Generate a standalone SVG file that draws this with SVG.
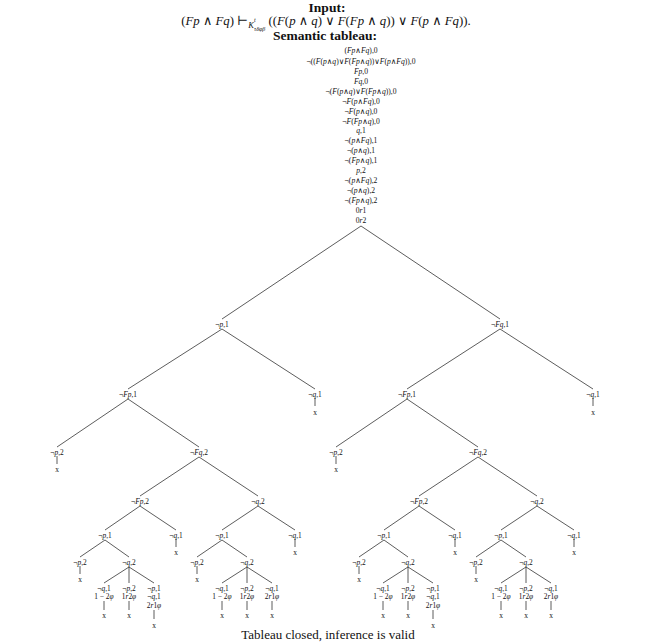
<svg xmlns="http://www.w3.org/2000/svg" width="656" height="644" viewBox="0 0 656 644">
<style>
text{font-family:"Liberation Serif","DejaVu Serif",serif;fill:#111;}
.h{font-size:13.5px;font-weight:bold;text-anchor:middle;}
.f{font-size:12.8px;text-anchor:middle;}
.s{font-size:7.6px;text-anchor:middle;}
.n{font-size:7.4px;text-anchor:middle;}
.c{font-size:13px;text-anchor:middle;}
.i{font-style:italic;}
#connectors line{stroke:#333;stroke-width:0.8;}
</style>
<rect width="656" height="644" fill="#fff"/>
<g id="header">
<text class="h" x="327" y="12">Input:</text>
<text class="f" x="326" y="24.5">(<tspan class="i">Fp</tspan> ∧ <tspan class="i">Fq</tspan>) ⊢<tspan class="i" font-size="8.5" dy="3">K</tspan><tspan class="i" font-size="6" dy="-6">t</tspan><tspan class="i" font-size="6" dx="-1.5" dy="9">τδφβ</tspan><tspan dy="-6"> ((<tspan class="i">F</tspan>(<tspan class="i">p</tspan> ∧ <tspan class="i">q</tspan>) ∨ <tspan class="i">F</tspan>(<tspan class="i">Fp</tspan> ∧ <tspan class="i">q</tspan>)) ∨ <tspan class="i">F</tspan>(<tspan class="i">p</tspan> ∧ <tspan class="i">Fq</tspan>)).</tspan></text>
<text class="h" x="325" y="40">Semantic tableau:</text>
</g>
<g id="root">
<text class="s" x="361" y="52.5">(<tspan class="i">Fp</tspan>∧<tspan class="i">Fq</tspan>),0</text>
<text class="s" x="361" y="63.5">¬((<tspan class="i">F</tspan>(<tspan class="i">p</tspan>∧<tspan class="i">q</tspan>)∨<tspan class="i">F</tspan>(<tspan class="i">Fp</tspan>∧<tspan class="i">q</tspan>))∨<tspan class="i">F</tspan>(<tspan class="i">p</tspan>∧<tspan class="i">Fq</tspan>)),0</text>
<text class="s" x="361" y="73.5"><tspan class="i">Fp</tspan>,0</text>
<text class="s" x="361" y="83.5"><tspan class="i">Fq</tspan>,0</text>
<text class="s" x="361" y="93.5">¬(<tspan class="i">F</tspan>(<tspan class="i">p</tspan>∧<tspan class="i">q</tspan>)∨<tspan class="i">F</tspan>(<tspan class="i">Fp</tspan>∧<tspan class="i">q</tspan>)),0</text>
<text class="s" x="361" y="103.5">¬<tspan class="i">F</tspan>(<tspan class="i">p</tspan>∧<tspan class="i">Fq</tspan>),0</text>
<text class="s" x="361" y="113.5">¬<tspan class="i">F</tspan>(<tspan class="i">p</tspan>∧<tspan class="i">q</tspan>),0</text>
<text class="s" x="361" y="123.5">¬<tspan class="i">F</tspan>(<tspan class="i">Fp</tspan>∧<tspan class="i">q</tspan>),0</text>
<text class="s" x="361" y="132.5"><tspan class="i">q</tspan>,1</text>
<text class="s" x="361" y="142.5">¬(<tspan class="i">p</tspan>∧<tspan class="i">Fq</tspan>),1</text>
<text class="s" x="361" y="152.5">¬(<tspan class="i">p</tspan>∧<tspan class="i">q</tspan>),1</text>
<text class="s" x="361" y="162.5">¬(<tspan class="i">Fp</tspan>∧<tspan class="i">q</tspan>),1</text>
<text class="s" x="361" y="172.5"><tspan class="i">p</tspan>,2</text>
<text class="s" x="361" y="182.5">¬(<tspan class="i">p</tspan>∧<tspan class="i">Fq</tspan>),2</text>
<text class="s" x="361" y="192.5">¬(<tspan class="i">p</tspan>∧<tspan class="i">q</tspan>),2</text>
<text class="s" x="361" y="202.5">¬(<tspan class="i">Fp</tspan>∧<tspan class="i">q</tspan>),2</text>
<text class="s" x="361" y="212.5">0<tspan class="i">r</tspan>1</text>
<text class="s" x="361" y="222.5">0<tspan class="i">r</tspan>2</text>
</g>
<g id="connectors">
<line x1="361" y1="226" x2="222" y2="319"/><line x1="361" y1="226" x2="500" y2="319"/>
<line x1="222" y1="329" x2="128" y2="389"/><line x1="222" y1="329" x2="315" y2="389"/>
<line x1="500" y1="329" x2="407" y2="389"/><line x1="500" y1="329" x2="593" y2="389"/>
<line x1="315" y1="398" x2="315" y2="406"/><line x1="593" y1="398" x2="593" y2="406"/>
<line x1="128" y1="399" x2="57" y2="447"/><line x1="128" y1="399" x2="199" y2="447"/>
<line x1="407" y1="399" x2="336" y2="447"/><line x1="407" y1="399" x2="478" y2="447"/>
<line x1="57" y1="456" x2="57" y2="464"/><line x1="336" y1="456" x2="336" y2="464"/>
<line x1="199" y1="457" x2="140" y2="496"/><line x1="199" y1="457" x2="258" y2="496"/>
<line x1="478" y1="457" x2="419" y2="496"/><line x1="478" y1="457" x2="537" y2="496"/>
<line x1="140" y1="506" x2="105" y2="530"/><line x1="140" y1="506" x2="176" y2="530"/>
<line x1="258" y1="506" x2="222" y2="530"/><line x1="258" y1="506" x2="295" y2="530"/>
<line x1="419" y1="506" x2="384" y2="530"/><line x1="419" y1="506" x2="455" y2="530"/>
<line x1="537" y1="506" x2="501" y2="530"/><line x1="537" y1="506" x2="574" y2="530"/>
<line x1="176" y1="539" x2="176" y2="547"/><line x1="295" y1="539" x2="295" y2="547"/>
<line x1="455" y1="539" x2="455" y2="547"/><line x1="574" y1="539" x2="574" y2="547"/>
<line x1="105" y1="540" x2="80" y2="557"/><line x1="105" y1="540" x2="129" y2="557"/>
<line x1="222" y1="540" x2="197" y2="557"/><line x1="222" y1="540" x2="247" y2="557"/>
<line x1="384" y1="540" x2="359" y2="557"/><line x1="384" y1="540" x2="408" y2="557"/>
<line x1="501" y1="540" x2="476" y2="557"/><line x1="501" y1="540" x2="526" y2="557"/>
<line x1="80" y1="566" x2="80" y2="574"/><line x1="197" y1="566" x2="197" y2="574"/>
<line x1="359" y1="566" x2="359" y2="574"/><line x1="476" y1="566" x2="476" y2="574"/>
<line x1="129" y1="567" x2="104" y2="583"/><line x1="129" y1="567" x2="129" y2="583"/><line x1="129" y1="567" x2="154" y2="583"/>
<line x1="247" y1="567" x2="222" y2="583"/><line x1="247" y1="567" x2="247" y2="583"/><line x1="247" y1="567" x2="272" y2="583"/>
<line x1="408" y1="567" x2="383" y2="583"/><line x1="408" y1="567" x2="408" y2="583"/><line x1="408" y1="567" x2="433" y2="583"/>
<line x1="526" y1="567" x2="501" y2="583"/><line x1="526" y1="567" x2="526" y2="583"/><line x1="526" y1="567" x2="551" y2="583"/>
<line x1="104" y1="601" x2="104" y2="610"/><line x1="129" y1="601" x2="129" y2="610"/><line x1="154" y1="610" x2="154" y2="619"/>
<line x1="222" y1="601" x2="222" y2="610"/><line x1="247" y1="601" x2="247" y2="610"/><line x1="272" y1="601" x2="272" y2="610"/>
<line x1="383" y1="601" x2="383" y2="610"/><line x1="408" y1="601" x2="408" y2="610"/><line x1="433" y1="610" x2="433" y2="619"/>
<line x1="501" y1="601" x2="501" y2="610"/><line x1="526" y1="601" x2="526" y2="610"/><line x1="551" y1="601" x2="551" y2="610"/>
</g>
<g id="n_p1"><text class="n" x="222" y="326.5">¬<tspan class="i">p</tspan>,1</text></g>
<g id="n_Fq1"><text class="n" x="500" y="326.5">¬<tspan class="i">Fq</tspan>,1</text></g>
<g id="n_L_Fp1"><text class="n" x="128" y="396.5">¬<tspan class="i">Fp</tspan>,1</text></g>
<g id="n_L_q1"><text class="n" x="315" y="396.5">¬<tspan class="i">q</tspan>,1</text><text class="n" x="315" y="415">x</text></g>
<g id="n_R_Fp1"><text class="n" x="407" y="396.5">¬<tspan class="i">Fp</tspan>,1</text></g>
<g id="n_R_q1"><text class="n" x="593" y="396.5">¬<tspan class="i">q</tspan>,1</text><text class="n" x="593" y="415">x</text></g>
<g id="n_L_p2"><text class="n" x="57" y="454.5">¬<tspan class="i">p</tspan>,2</text><text class="n" x="57" y="472">x</text></g>
<g id="n_L_Fq2"><text class="n" x="199" y="454.5">¬<tspan class="i">Fq</tspan>,2</text></g>
<g id="n_R_p2"><text class="n" x="336" y="454.5">¬<tspan class="i">p</tspan>,2</text><text class="n" x="336" y="472">x</text></g>
<g id="n_R_Fq2"><text class="n" x="478" y="454.5">¬<tspan class="i">Fq</tspan>,2</text></g>
<g id="n_L_Fp2"><text class="n" x="140" y="503.5">¬<tspan class="i">Fp</tspan>,2</text></g>
<g id="n_L_q2"><text class="n" x="258" y="503.5">¬<tspan class="i">q</tspan>,2</text></g>
<g id="n_R_Fp2"><text class="n" x="419" y="503.5">¬<tspan class="i">Fp</tspan>,2</text></g>
<g id="n_R_q2"><text class="n" x="537" y="503.5">¬<tspan class="i">q</tspan>,2</text></g>
<g id="n_L_p1a"><text class="n" x="105" y="537.5">¬<tspan class="i">p</tspan>,1</text></g>
<g id="n_L_q1a"><text class="n" x="176" y="537.5">¬<tspan class="i">q</tspan>,1</text><text class="n" x="176" y="555">x</text></g>
<g id="n_L_p1b"><text class="n" x="222" y="537.5">¬<tspan class="i">p</tspan>,1</text></g>
<g id="n_L_q1b"><text class="n" x="295" y="537.5">¬<tspan class="i">q</tspan>,1</text><text class="n" x="295" y="555">x</text></g>
<g id="n_R_p1a"><text class="n" x="384" y="537.5">¬<tspan class="i">p</tspan>,1</text></g>
<g id="n_R_q1a"><text class="n" x="455" y="537.5">¬<tspan class="i">q</tspan>,1</text><text class="n" x="455" y="555">x</text></g>
<g id="n_R_p1b"><text class="n" x="501" y="537.5">¬<tspan class="i">p</tspan>,1</text></g>
<g id="n_R_q1b"><text class="n" x="574" y="537.5">¬<tspan class="i">q</tspan>,1</text><text class="n" x="574" y="555">x</text></g>
<g id="n_L_p2b"><text class="n" x="80" y="564.5">¬<tspan class="i">p</tspan>,2</text><text class="n" x="80" y="582">x</text></g>
<g id="n_L_q2b"><text class="n" x="129" y="564.5">¬<tspan class="i">q</tspan>,2</text></g>
<g id="n_L_p2c"><text class="n" x="197" y="564.5">¬<tspan class="i">p</tspan>,2</text><text class="n" x="197" y="582">x</text></g>
<g id="n_L_q2c"><text class="n" x="247" y="564.5">¬<tspan class="i">q</tspan>,2</text></g>
<g id="n_R_p2b"><text class="n" x="359" y="564.5">¬<tspan class="i">p</tspan>,2</text><text class="n" x="359" y="582">x</text></g>
<g id="n_R_q2b"><text class="n" x="408" y="564.5">¬<tspan class="i">q</tspan>,2</text></g>
<g id="n_R_p2c"><text class="n" x="476" y="564.5">¬<tspan class="i">p</tspan>,2</text><text class="n" x="476" y="582">x</text></g>
<g id="n_R_q2c"><text class="n" x="526" y="564.5">¬<tspan class="i">q</tspan>,2</text></g>
<g id="leaf_L1"><text class="n" x="104" y="590.5">¬<tspan class="i">q</tspan>,1</text><text class="n" x="104" y="599">1 − 2<tspan class="i">φ</tspan></text><text class="n" x="104" y="618">x</text></g>
<g id="leaf_L2"><text class="n" x="129" y="590.5">¬<tspan class="i">p</tspan>,2</text><text class="n" x="129" y="599">1<tspan class="i">r</tspan>2<tspan class="i">φ</tspan></text><text class="n" x="129" y="618">x</text></g>
<g id="leaf_L3"><text class="n" x="154" y="590.5">¬<tspan class="i">p</tspan>,1</text><text class="n" x="154" y="599">¬<tspan class="i">q</tspan>,1</text><text class="n" x="154" y="608">2<tspan class="i">r</tspan>1<tspan class="i">φ</tspan></text><text class="n" x="154" y="628">x</text></g>
<g id="leaf_L4"><text class="n" x="222" y="590.5">¬<tspan class="i">q</tspan>,1</text><text class="n" x="222" y="599">1 − 2<tspan class="i">φ</tspan></text><text class="n" x="222" y="618">x</text></g>
<g id="leaf_L5"><text class="n" x="247" y="590.5">¬<tspan class="i">p</tspan>,2</text><text class="n" x="247" y="599">1<tspan class="i">r</tspan>2<tspan class="i">φ</tspan></text><text class="n" x="247" y="618">x</text></g>
<g id="leaf_L6"><text class="n" x="272" y="590.5">¬<tspan class="i">q</tspan>,1</text><text class="n" x="272" y="599">2<tspan class="i">r</tspan>1<tspan class="i">φ</tspan></text><text class="n" x="272" y="618">x</text></g>
<g id="leaf_R1"><text class="n" x="383" y="590.5">¬<tspan class="i">q</tspan>,1</text><text class="n" x="383" y="599">1 − 2<tspan class="i">φ</tspan></text><text class="n" x="383" y="618">x</text></g>
<g id="leaf_R2"><text class="n" x="408" y="590.5">¬<tspan class="i">p</tspan>,2</text><text class="n" x="408" y="599">1<tspan class="i">r</tspan>2<tspan class="i">φ</tspan></text><text class="n" x="408" y="618">x</text></g>
<g id="leaf_R3"><text class="n" x="433" y="590.5">¬<tspan class="i">p</tspan>,1</text><text class="n" x="433" y="599">¬<tspan class="i">q</tspan>,1</text><text class="n" x="433" y="608">2<tspan class="i">r</tspan>1<tspan class="i">φ</tspan></text><text class="n" x="433" y="628">x</text></g>
<g id="leaf_R4"><text class="n" x="501" y="590.5">¬<tspan class="i">q</tspan>,1</text><text class="n" x="501" y="599">1 − 2<tspan class="i">φ</tspan></text><text class="n" x="501" y="618">x</text></g>
<g id="leaf_R5"><text class="n" x="526" y="590.5">¬<tspan class="i">p</tspan>,2</text><text class="n" x="526" y="599">1<tspan class="i">r</tspan>2<tspan class="i">φ</tspan></text><text class="n" x="526" y="618">x</text></g>
<g id="leaf_R6"><text class="n" x="551" y="590.5">¬<tspan class="i">q</tspan>,1</text><text class="n" x="551" y="599">2<tspan class="i">r</tspan>1<tspan class="i">φ</tspan></text><text class="n" x="551" y="618">x</text></g>
<g id="footer"><text class="c" x="328" y="639">Tableau closed, inference is valid</text></g>
</svg>
